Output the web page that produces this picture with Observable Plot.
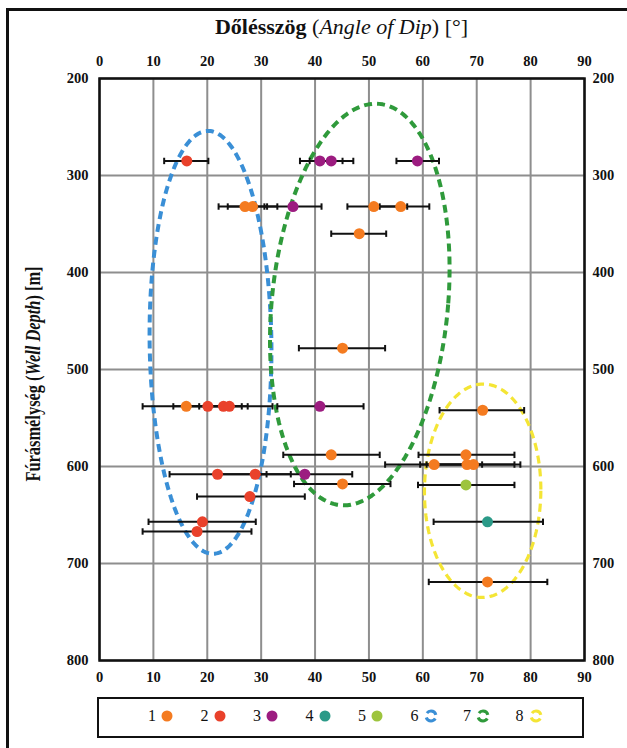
<!DOCTYPE html>
<html>
<head>
<meta charset="utf-8">
<script src="https://cdn.jsdelivr.net/npm/d3@7"></script>
<script src="https://cdn.jsdelivr.net/npm/@observablehq/plot@0.6"></script>
<style>
  html, body { margin: 0; padding: 0; background: #fff; }
  #wrap { position: relative; width: 627px; height: 748px; overflow: hidden; background: #fff; }
  #border { position: absolute; left: 6px; top: 8px; width: 700px; height: 800px; border-left: 3px solid #111; border-top: 3px solid #111; }
  #chart { position: absolute; left: 0; top: 0; }
  #title { position: absolute; left: 99px; width: 485px; top: 14px; text-align: center;
           font-family: "Liberation Serif", serif; font-size: 22px; color: #111; }
  #ylab { position: absolute; left: 33px; top: 374px; transform: translate(-50%, -50%) rotate(-90deg) scaleX(0.82);
          white-space: nowrap; font-family: "Liberation Serif", serif; font-size: 20px; font-weight: bold; color: #111; }
  #legend { position: absolute; left: 97px; top: 697px; width: 483px; height: 37px; border: 2px solid #111; }
  .li { position: absolute; top: 8px; font-family: "Liberation Serif", serif; font-size: 16px; color: #111; display: flex; align-items: center; gap: 5px; }
</style>
</head>
<body>
<div id="wrap">
  <div id="border"></div>
  <div id="chart"></div>
  <div id="title"><b>Dőlésszög</b> (<i>Angle of Dip</i>) [°]</div>
  <div id="ylab">Fúrásmélység (<i>Well Depth</i>) [m]</div>
  <div id="legend"></div>
</div>
<script>
// ---- data ----
const groups   = [1, 2, 3, 4, 5];
const groupColors = ["#f47b20", "#e9412b", "#9c1c80", "#2b9a88", "#9dc43d"];

const depth  = [285, 285, 285, 285, 332, 332, 332, 332, 332, 360, 478, 538, 538, 538, 538, 538, 542, 588, 588, 598, 598, 598, 608, 608, 608, 618, 619, 631, 657, 657, 667, 719];
const dip    = [16.2, 40.9, 43.0, 59.0, 27.0, 28.4, 35.9, 50.9, 55.9, 48.2, 45.1, 16.1, 20.1, 23.0, 24.1, 40.9, 71.1, 43.0, 68.0, 62.1, 68.2, 69.4, 21.9, 28.9, 38.1, 45.1, 68.0, 27.9, 19.1, 72.0, 18.1, 72.0];
const dipLow = [12.0, 37.2, 39.0, 55.1, 22.1, 23.8, 30.6, 46.0, 52.0, 43.0, 37.0, 8.0, 13.7, 18.5, 16.1, 33.0, 63.1, 34.1, 59.2, 53.0, 59.5, 60.7, 13.0, 22.0, 29.3, 36.1, 59.1, 18.1, 9.1, 62.0, 8.0, 61.1];
const dipHigh= [20.2, 45.1, 47.1, 63.0, 31.1, 33.0, 41.2, 57.1, 61.2, 53.2, 53.0, 24.1, 26.4, 27.5, 32.1, 49.0, 78.8, 52.0, 77.0, 71.0, 77.0, 78.1, 31.0, 35.5, 46.9, 54.0, 77.0, 38.1, 29.0, 82.3, 28.2, 83.1];
const group  = [2, 3, 3, 3, 1, 1, 3, 1, 1, 1, 1, 1, 2, 2, 2, 3, 1, 1, 1, 1, 1, 1, 2, 2, 3, 1, 5, 2, 2, 4, 2, 1];

// dashed ellipses (groups 6, 7, 8)
const ellipseIds    = [6, 7, 8];
const ellipseColors = ["#3a8fd6", "#2f9a3b", "#f4e535"];
const ellipseCx     = [20.6, 48.3, 71.1];
const ellipseCy     = [472, 433, 625];
const ellipseRx     = [11.3, 16.4, 10.8];
const ellipseRy     = [218, 207, 110];
const ellipseShear  = [-0.45, 2.95, 0.1];
const ellipseWidth  = [4, 4, 3.2];

const xTicks = [0, 10, 20, 30, 40, 50, 60, 70, 80, 90];
const yTicks = [200, 300, 400, 500, 600, 700, 800];

// ---- build ----
const points = depth.map((d, i) => ({depth: d, dip: dip[i], lo: dipLow[i], hi: dipHigh[i], color: groupColors[groups.indexOf(group[i])]}));

function ellipsePoints(k) {
  const pts = [];
  const n = 160;
  for (let j = 0; j < n; j++) {
    const t = (j / n) * 2 * Math.PI;
    pts.push({x: ellipseCx[k] + ellipseRx[k] * Math.cos(t) - ellipseShear[k] * Math.sin(t),
              y: ellipseCy[k] + ellipseRy[k] * Math.sin(t)});
  }
  return pts;
}

const capHalf = 3.3;
const ellipseMarks = ellipseIds.map((id, k) =>
  Plot.line(ellipsePoints(k), {x: "x", y: "y", curve: "linear-closed", stroke: ellipseColors[k],
    strokeWidth: ellipseWidth[k], strokeDasharray: "8,5", strokeLinecap: "butt"}));

const axisFont = {fontFamily: "Liberation Serif", fontSize: 14.5, fontWeight: "bold", fill: "#111"};

const chart = Plot.plot({
  width: 627, height: 690,
  marginLeft: 99, marginRight: 43, marginTop: 78, marginBottom: 30,
  x: {domain: [0, 90]},
  y: {domain: [200, 800], reverse: true},
  style: {fontFamily: "Liberation Serif", fontSize: "14.5px", fontWeight: "bold", color: "#111", background: "transparent"},
  marks: [
    Plot.gridX(xTicks, {stroke: "#8e8e8e", strokeOpacity: 1, strokeWidth: 2}),
    Plot.gridY(yTicks, {stroke: "#8e8e8e", strokeOpacity: 1, strokeWidth: 2}),
    ...ellipseMarks,
    Plot.link(points, {x1: "lo", x2: "hi", y1: "depth", y2: "depth", stroke: "#111", strokeWidth: 2}),
    Plot.link(points, {x1: "lo", x2: "lo", y1: d => d.depth - capHalf, y2: d => d.depth + capHalf, stroke: "#111", strokeWidth: 2}),
    Plot.link(points, {x1: "hi", x2: "hi", y1: d => d.depth - capHalf, y2: d => d.depth + capHalf, stroke: "#111", strokeWidth: 2}),
    Plot.dot(points, {x: "dip", y: "depth", r: 5.5, fill: "color", stroke: null}),
    Plot.frame({stroke: "#111", strokeWidth: 2.5}),
    Plot.axisX(xTicks, {anchor: "top", tickSize: 0, tickPadding: 13, label: null, ...axisFont}),
    Plot.axisX(xTicks, {anchor: "bottom", tickSize: 0, tickPadding: 11, label: null, ...axisFont}),
    Plot.axisY(yTicks, {anchor: "left", tickSize: 0, tickPadding: 11, label: null, ...axisFont}),
    Plot.axisY(yTicks, {anchor: "right", tickSize: 0, tickPadding: 8, label: null, ...axisFont})
  ]
});
document.getElementById("chart").appendChild(chart);

// ---- legend ----
const legend = document.getElementById("legend");
const legendLabels = ["1", "2", "3", "4", "5", "6", "7", "8"];
legendLabels.forEach((lab, i) => {
  const item = document.createElement("div");
  item.className = "li";
  item.style.left = (49 + i * 52.5) + "px";
  let icon;
  if (i < 5) {
    icon = `<svg width="12" height="12"><circle cx="6" cy="6" r="5.5" fill="${groupColors[i]}"/></svg>`;
  } else {
    const c = ellipseColors[i - 5];
    icon = `<svg width="14" height="14"><circle cx="7" cy="7" r="5" fill="none" stroke="${c}" stroke-width="3" stroke-dasharray="11,4.7" stroke-dashoffset="13"/></svg>`;
  }
  item.innerHTML = `<span>${lab}</span>${icon}`;
  legend.appendChild(item);
});
</script>
</body>
</html>
